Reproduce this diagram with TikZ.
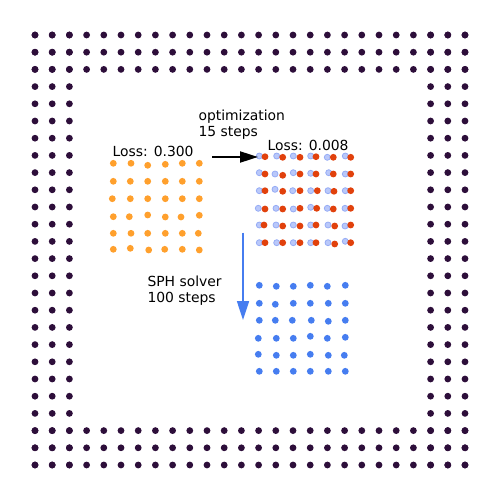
\documentclass[tikz,border=0pt]{standalone}
\usepackage{fontspec}
\setmainfont{DejaVu Sans}
\usetikzlibrary{arrows.meta}
\definecolor{wallc}{RGB}{45,14,58}
\definecolor{initc}{RGB}{255,160,45}
\definecolor{optc}{RGB}{225,65,12}
\definecolor{targetc}{RGB}{185,200,250}
\definecolor{targetedge}{RGB}{150,172,245}
\definecolor{simc}{RGB}{70,125,240}
\begin{document}
\begin{tikzpicture}[x=1pt, y=-1pt,
    lbl/.style={anchor=base west, inner sep=0pt, font=\fontsize{13.9}{16}\selectfont, align=left}]
    \useasboundingbox (0,0) rectangle (500,500);
    % boundary particles
    \foreach \i in {0,...,25} {
        \foreach \j in {0,1,2,23,24,25} {
            \fill[wallc] (35+17.2*\i, 35+17.2*\j) circle (3.4pt);
            \fill[wallc] (35+17.2*\j, 35+17.2*\i) circle (3.4pt);
        }
    }
    % initial guess
    \foreach \p in {(113.3,163.3),(131,163.3),(147.7,165.3),(165.3,164.3),(182.3,163.3),(199.3,163.3),
        (113.3,181.3),(130.3,181.3),(147.7,181.3),(165.3,181.3),(182.3,181.3),(199.3,181.3),
        (112.3,198.7),(130.3,198.7),(147.7,198.7),(165.3,198.7),(182.3,198.7),(199.3,198.7),
        (113.3,216.7),(129.3,216.7),(147.7,215),(165.3,217),(181,217),(199.3,215.3),
        (113.3,233.3),(131,233.3),(147.7,233.3),(165.3,233.3),(182.3,233.3),(198.3,233.3),
        (113.3,249.3),(130.3,248.3),(148.7,250),(164.7,249.3),(182.3,249.3),(199.3,250)}
        \fill[initc] \p circle (3.4pt);
    % target
    \foreach \p in {(259.3,156),(276.7,156),(293.3,156),(310.7,156),(327.3,157.3),(345.3,156),
        (259.3,172.7),(275,174),(293.3,172.7),(310.7,173.3),(328.7,172.7),(345.3,174),
        (259.3,190.7),(275,189.3),(292.7,190.7),(310.7,190.7),(328,190.7),(345.3,190.7),
        (258.3,208.3),(276,208.3),(293.3,209),(310.7,207.3),(327.3,208.3),(345,208.3),
        (259.3,225),(276,225),(293.3,225),(310.7,225),(328,225),(345,226),
        (259.3,242.7),(276.7,242.7),(293.3,242.7),(310.7,242.7),(328,242.7),(345.3,241.3)}
        \draw[targetedge, fill=targetc, line width=0.8pt] \p circle (3pt);
    % optimized
    \foreach \p in {(265,156.7),(282.7,157.3),(300,157.3),(316,156.7),(333.3,157.3),(350.7,157.3),
        (265,174),(282.7,175.3),(300,174),(316,174),(333.3,174),(350.7,174),
        (265,190.7),(282.7,191.3),(300,190.7),(317.3,190.7),(334,191.3),(350.7,190.7),
        (265,209),(282.7,209),(300,208.3),(316.7,208.3),(333.3,209),(350.7,208.3),
        (264,225),(282.7,226),(300,226),(316,225),(334.7,226),(350.7,225),
        (265,242.7),(282.7,242.7),(300,242.7),(316,242.7),(334.7,244),(350.7,242.7)}
        \fill[optc] \p circle (3.4pt);
    % simulated
    \foreach \p in {(259.3,285.3),(276.3,286.3),(293.3,286.3),(310.3,285.3),(327.3,286.3),(345.3,285.3),
        (259.3,303.3),(275.3,304.3),(293.3,303.3),(310.3,303.3),(328.3,303.3),(345.3,303.3),
        (259.3,320.3),(275.3,320.3),(292.3,320.3),(311.3,320.3),(328.3,321.3),(345.3,320.3),
        (258.3,338.3),(276.3,338.3),(293.3,338.3),(310.3,336.3),(327.3,338.3),(345.3,337.3),
        (258.3,354.3),(276.3,355.3),(293.3,355.3),(310.3,354.3),(328.3,355.3),(344.3,355.3),
        (259.3,371.3),(276.3,371.3),(293.3,371.3),(310.3,371.3),(328.3,371.3),(345.3,371.3)}
        \fill[simc] \p circle (3.4pt);
    % labels (base anchor sits on the last line)
    \node[lbl] (loss init) at (112.5,156.7) {Loss: 0.300};
    \node[lbl] (loss opt) at (267.5,150) {Loss: 0.008};
    \node[lbl] (opt label) at (198.3,136) {optimization\\15 steps};
    \node[lbl] (sph label) at (147.3,302) {SPH solver\\100 steps};
    % arrows
    \coordinate (opt tail) at (212,157);
    \coordinate (opt head) at (258,157);
    \draw[line width=2pt, -{Triangle[length=18pt, width=11pt]}] (opt tail) -- (opt head);
    \coordinate (sph tail) at (243,232.5);
    \coordinate (sph head) at (243,320);
    \draw[simc, line width=1.7pt, -{Triangle[length=19pt, width=12pt]}] (sph tail) -- (sph head);
\end{tikzpicture}
\end{document}
